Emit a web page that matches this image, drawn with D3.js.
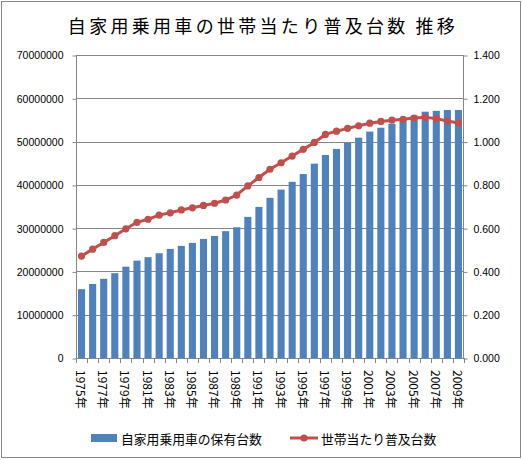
<!DOCTYPE html>
<html>
<head>
<meta charset="utf-8">
<script src="https://cdn.jsdelivr.net/npm/d3@7"></script>
<style>
  body { margin: 0; background: #fff; }
  text { font-family: "Liberation Sans", Arial, sans-serif; fill: #000; }
  .jp { font-family: "Noto Sans CJK JP", sans-serif; }
</style>
</head>
<body>
<div id="chart"></div>
<script>
// 年 (1975-2009)
const years = [1975, 1976, 1977, 1978, 1979, 1980, 1981, 1982, 1983, 1984,
  1985, 1986, 1987, 1988, 1989, 1990, 1991, 1992, 1993, 1994,
  1995, 1996, 1997, 1998, 1999, 2000, 2001, 2002, 2003, 2004,
  2005, 2006, 2007, 2008, 2009];

// 自家用乗用車の保有台数
const cars = [15900000, 17100000, 18300000, 19600000, 21100000, 22500000, 23300000, 24200000, 25200000, 25900000,
  26600000, 27500000, 28200000, 29300000, 30200000, 32600000, 34900000, 37000000, 38900000, 40700000,
  42500000, 44900000, 46900000, 48300000, 49700000, 50900000, 52300000, 53200000, 54100000, 55000000,
  56000000, 56900000, 57100000, 57300000, 57300000];

// 世帯当たり普及台数
const perHousehold = [0.471, 0.503, 0.534, 0.565, 0.597, 0.627, 0.641, 0.660, 0.671, 0.684,
  0.694, 0.705, 0.715, 0.730, 0.753, 0.795, 0.834, 0.872, 0.902, 0.933,
  0.964, 0.996, 1.033, 1.048, 1.061, 1.073, 1.085, 1.093, 1.099, 1.103,
  1.109, 1.112, 1.106, 1.095, 1.086];

const leftTicks = [0, 10000000, 20000000, 30000000, 40000000, 50000000, 60000000, 70000000];
const rightTicks = [0, 0.2, 0.4, 0.6, 0.8, 1.0, 1.2, 1.4];

const width = 523;
const height = 460;
// plot area edges
const plotL = 76, plotR = 464, plotT = 55, plotB = 358;

const svg = d3.select('#chart').append('svg')
  .attr('width', width)
  .attr('height', height);

// outer frame
svg.append('rect')
  .attr('x', 1.5).attr('y', 1.5)
  .attr('width', 519).attr('height', 456)
  .attr('fill', '#fff')
  .attr('stroke', '#868686');

svg.append('text')
  .attr('class', 'jp')
  .attr('x', 263).attr('y', 33)
  .attr('text-anchor', 'middle')
  .style('font-size', '18px')
  .style('letter-spacing', '3.3px')
  .text('自家用乗用車の世帯当たり普及台数\u2009推移');

const x = d3.scaleBand().domain(years).range([plotL, plotR]).paddingInner(0.36).paddingOuter(0.18);
const y = d3.scaleLinear().domain([0, 70000000]).range([plotB, plotT]);
const y2 = d3.scaleLinear().domain([0, 1.4]).range([plotB, plotT]);

// gridlines
svg.append('g')
  .selectAll('line')
  .data(leftTicks)
  .enter().append('line')
    .attr('x1', plotL).attr('x2', plotR)
    .attr('y1', d => Math.round(y(d)) + 0.5)
    .attr('y2', d => Math.round(y(d)) + 0.5)
    .attr('stroke', '#868686');

// bars
svg.append('g')
  .selectAll('rect')
  .data(cars)
  .enter().append('rect')
    .attr('x', (d, i) => x(years[i]))
    .attr('width', x.bandwidth())
    .attr('y', d => y(d))
    .attr('height', d => plotB - y(d))
    .attr('fill', '#4F81BD');

// left axis
const yAxis = d3.axisLeft(y).tickValues(leftTicks).tickFormat(d3.format('d')).tickSize(4).tickPadding(9);
const gy = svg.append('g').attr('transform', `translate(${plotL + 0.5},0.5)`).call(yAxis);
gy.selectAll('path, line').attr('stroke', '#868686');
gy.select('.domain').attr('d', `M0,${plotT}V${plotB}`);
gy.selectAll('text').style('font-size', '10.5px').attr('fill', '#000');

// right axis
const y2Axis = d3.axisRight(y2).tickValues(rightTicks).tickFormat(d3.format('.3f')).tickSize(4).tickPadding(6);
const gy2 = svg.append('g').attr('transform', `translate(${plotR - 0.5},0.5)`).call(y2Axis);
gy2.selectAll('path, line').attr('stroke', '#868686');
gy2.select('.domain').attr('d', `M0,${plotT}V${plotB}`);
gy2.selectAll('text').style('font-size', '10.5px').attr('fill', '#000');

// bottom axis: ticks at category boundaries
const step = x.step();
const bandStart = d => x(d) - step * x.paddingInner() / 2;
const gx = svg.append('g');
gx.append('line')
  .attr('x1', plotL).attr('x2', plotR)
  .attr('y1', plotB + 0.5).attr('y2', plotB + 0.5)
  .attr('stroke', '#868686');
gx.selectAll('line.tick')
  .data(years.concat(['end']))
  .enter().append('line')
    .attr('class', 'tick')
    .attr('x1', d => Math.round(d === 'end' ? plotR : bandStart(d)) + 0.5)
    .attr('x2', d => Math.round(d === 'end' ? plotR : bandStart(d)) + 0.5)
    .attr('y1', plotB).attr('y2', plotB + 5)
    .attr('stroke', '#868686');

gx.selectAll('text')
  .data(years.filter(d => d % 2 === 1))
  .enter().append('text')
    .attr('class', 'jp')
    .attr('transform', d => `translate(${x(d) + x.bandwidth() / 2},370) rotate(90)`)
    .attr('dominant-baseline', 'central')
    .style('font-size', '12px')
    .text(d => d + '年');

// line series
const line = d3.line()
  .x((d, i) => x(years[i]) + x.bandwidth() / 2)
  .y(d => y2(d));

svg.append('path')
  .datum(perHousehold)
  .attr('d', line)
  .attr('fill', 'none')
  .attr('stroke', '#C0504D')
  .attr('stroke-width', 3);

svg.append('g')
  .selectAll('circle')
  .data(perHousehold)
  .enter().append('circle')
    .attr('cx', (d, i) => x(years[i]) + x.bandwidth() / 2)
    .attr('cy', d => y2(d))
    .attr('r', 3.6)
    .attr('fill', '#C0504D');

// legend
const legend = svg.append('g');
legend.append('rect')
  .attr('x', 91).attr('y', 434)
  .attr('width', 26).attr('height', 8)
  .attr('fill', '#4F81BD');
legend.append('text')
  .attr('class', 'jp')
  .attr('x', 121).attr('y', 438)
  .attr('dominant-baseline', 'central')
  .style('font-size', '12.8px')
  .text('自家用乗用車の保有台数');
legend.append('line')
  .attr('x1', 290).attr('x2', 318)
  .attr('y1', 438).attr('y2', 438)
  .attr('stroke', '#C0504D')
  .attr('stroke-width', 3);
legend.append('circle')
  .attr('cx', 304).attr('cy', 438).attr('r', 3.6)
  .attr('fill', '#C0504D');
legend.append('text')
  .attr('class', 'jp')
  .attr('x', 321).attr('y', 438)
  .attr('dominant-baseline', 'central')
  .style('font-size', '12.8px')
  .text('世帯当たり普及台数');
</script>
</body>
</html>
